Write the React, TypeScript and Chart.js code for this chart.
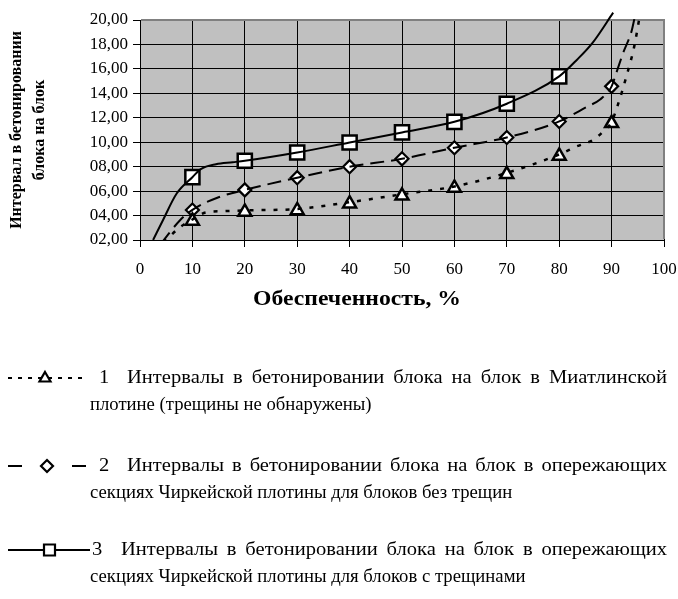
import React, { useEffect, useRef } from "react";
import { Chart, registerables } from "chart.js";

Chart.register(...registerables);

// ---- data ----
const xCategories = [10, 20, 30, 40, 50, 60, 70, 80, 90];
const series1Markers = [3.56, 4.3, 4.42, 4.97, 5.62, 6.26, 7.37, 8.88, 11.55]; // triangles
const series2Markers = [4.46, 6.1, 7.1, 8.0, 8.64, 9.55, 10.39, 11.7, 14.57]; // diamonds
const series3X = [10, 20, 30, 40, 50, 60, 70, 80];
const series3Markers = [7.14, 8.48, 9.16, 9.98, 10.8, 11.67, 13.15, 15.39]; // squares

// smoothed trend curves
const curve1X = [4.5, 7.5, 10, 12.5, 16, 20, 30, 40, 50, 60, 70, 80, 83.3, 86.5, 88.4, 90, 91.3, 92.9, 94.3, 95.4];
const curve1Y = [1.8, 3.0, 3.68, 4.25, 4.36, 4.42, 4.54, 5.09, 5.74, 6.38, 7.49, 9.0, 9.65, 10.2, 10.88, 11.67, 13.2, 15.5, 17.8, 20.4];
const curve2X = [4.0, 7.6, 10, 15, 20, 30, 40, 50, 60, 70, 80, 85.3, 87.8, 90, 91, 92.2, 93.8, 94.5];
const curve2Y = [1.7, 3.6, 4.46, 5.5, 6.1, 7.1, 8.0, 8.64, 9.55, 10.39, 11.7, 12.9, 13.5, 14.57, 15.8, 17.3, 19.07, 20.4];
const curve3X = [2.5, 4.4, 7, 10, 11.6, 14.5, 17.7, 20, 30, 40, 50, 60, 70, 80, 83.4, 86.4, 90.3];
const curve3Y = [2.0, 3.64, 5.8, 7.14, 7.8, 8.2, 8.36, 8.48, 9.16, 9.98, 10.8, 11.67, 13.15, 15.39, 16.75, 18.15, 20.6];

const yTickLabels = ["02,00", "04,00", "06,00", "08,00", "10,00", "12,00", "14,00", "16,00", "18,00", "20,00"];
const yTickValues = [2, 4, 6, 8, 10, 12, 14, 16, 18, 20];

const xTitle = "Обеспеченность, %";
const yTitle = ["Интервал в бетонировании", "блока на блок"];
const legendNumbers = ["1", "2", "3"];
const legendFirstLines = [
  "Интервалы в бетонировании блока на блок в Миатлинской",
  "Интервалы в бетонировании блока на блок в опережающих",
  "Интервалы в бетонировании блока на блок в опережающих",
];
const legendSecondLines = [
  "плотине (трещины не обнаружены)",
  "секциях Чиркейской плотины для блоков без трещин",
  "секциях Чиркейской плотины для блоков с трещинами",
];

const FONT = "'Liberation Serif', 'Times New Roman', serif";

const pts = (xs: number[], ys: number[]) => xs.map((x, i) => ({ x, y: ys[i] }));

function stretchText(ctx: CanvasRenderingContext2D, text: string, x: number, y: number, sx: number) {
  ctx.save();
  ctx.translate(x, y);
  ctx.scale(sx, 1);
  ctx.fillText(text, 0, 0);
  ctx.restore();
}

function justifyText(ctx: CanvasRenderingContext2D, text: string, x0: number, x1: number, y: number, sx: number) {
  const words = text.split(" ");
  const widths = words.map((w) => ctx.measureText(w).width * sx);
  const total = widths.reduce((s, w) => s + w, 0);
  const gap = (x1 - x0 - total) / (words.length - 1);
  let x = x0;
  words.forEach((w, i) => {
    stretchText(ctx, w, x, y, sx);
    x += widths[i] + gap;
  });
}

const overlayPlugin = {
  id: "overlay",
  beforeDraw(chart: any) {
    const { ctx, chartArea: a } = chart;
    ctx.save();
    ctx.fillStyle = "#ffffff";
    ctx.fillRect(0, 0, chart.width, chart.height);
    ctx.fillStyle = "#c0c0c0";
    ctx.fillRect(a.left, a.top, a.right - a.left, a.bottom - a.top);
    ctx.restore();
  },
  beforeDatasetsDraw(chart: any) {
    const { ctx, chartArea: a } = chart;
    ctx.save();
    ctx.strokeStyle = "#808080";
    ctx.lineWidth = 2;
    ctx.beginPath();
    ctx.moveTo(a.left + 1, a.top);
    ctx.lineTo(a.right, a.top);
    ctx.lineTo(a.right, a.bottom - 1);
    ctx.stroke();
    ctx.restore();
  },
  afterDraw(chart: any) {
    const { ctx } = chart;
    ctx.save();
    ctx.fillStyle = "#000";
    ctx.textBaseline = "middle";
    ctx.textAlign = "left";

    // x title (stretched like the reference)
    ctx.font = `bold 20px ${FONT}`;
    const tw = ctx.measureText(xTitle).width;
    stretchText(ctx, xTitle, 253, 300, 208 / tw);

    // legend
    const tops = [378, 466, 550];
    const numX = [99, 99, 92];
    const textX = [127, 127, 121];
    ctx.font = `18.7px ${FONT}`;
    legendFirstLines.forEach((line, i) => {
      const y = tops[i];
      ctx.fillStyle = "#000";
      stretchText(ctx, legendNumbers[i], numX[i], y, 1.1);
      justifyText(ctx, line, textX[i], 667, y, 1.1);
      ctx.fillText(legendSecondLines[i], 90, y + 27);
      ctx.strokeStyle = "#000";
      ctx.lineWidth = 2;
      ctx.beginPath();
      if (i === 0) {
        ctx.setLineDash([4, 6]);
        ctx.moveTo(8, y);
        ctx.lineTo(88, y);
      } else if (i === 1) {
        ctx.setLineDash([14, 50]);
        ctx.moveTo(8, y);
        ctx.lineTo(86, y);
      } else {
        ctx.setLineDash([]);
        ctx.moveTo(8, y);
        ctx.lineTo(90, y);
      }
      ctx.stroke();
      ctx.setLineDash([]);
      ctx.fillStyle = "#fff";
      ctx.lineWidth = 2.2;
      ctx.beginPath();
      if (i === 0) {
        ctx.moveTo(45, y - 6);
        ctx.lineTo(50.5, y + 3.5);
        ctx.lineTo(39.5, y + 3.5);
        ctx.closePath();
      } else if (i === 1) {
        ctx.moveTo(47, y - 6);
        ctx.lineTo(53, y);
        ctx.lineTo(47, y + 6);
        ctx.lineTo(41, y);
        ctx.closePath();
      } else {
        ctx.rect(44, y - 5.5, 11, 11);
      }
      ctx.fill();
      ctx.stroke();
    });
    ctx.restore();
  },
};

export default function App() {
  const ref = useRef<HTMLCanvasElement | null>(null);
  useEffect(() => {
    if (!ref.current) return;
    Chart.defaults.font.family = FONT;
    Chart.defaults.color = "#000";
    const clip = { left: 0, right: 0, bottom: 0, top: false } as any;
    const chart = new Chart(ref.current, {
      type: "line",
      data: {
        datasets: [
          {
            label: "curve1",
            data: pts(curve1X, curve1Y),
            borderColor: "#000",
            borderWidth: 2.5,
            borderDash: [4, 8],
            pointRadius: 0,
            cubicInterpolationMode: "monotone",
            clip,
          },
          {
            label: "curve2",
            data: pts(curve2X, curve2Y),
            borderColor: "#000",
            borderWidth: 2,
            borderDash: [14, 7],
            pointRadius: 0,
            cubicInterpolationMode: "monotone",
            clip,
          },
          {
            label: "curve3",
            data: pts(curve3X, curve3Y),
            borderColor: "#000",
            borderWidth: 2,
            pointRadius: 0,
            cubicInterpolationMode: "monotone",
            clip,
          },
          {
            label: "1",
            data: pts(xCategories, series1Markers),
            showLine: false,
            pointStyle: "triangle",
            pointRadius: 7.5,
            pointBackgroundColor: "#fff",
            pointBorderColor: "#000",
            pointBorderWidth: 2.5,
            clip: false as any,
          },
          {
            label: "2",
            data: pts(xCategories, series2Markers),
            showLine: false,
            pointStyle: "rectRot",
            pointRadius: 6.5,
            pointBackgroundColor: "#fff",
            pointBorderColor: "#000",
            pointBorderWidth: 2.2,
            clip: false as any,
          },
          {
            label: "3",
            data: pts(series3X, series3Markers),
            showLine: false,
            pointStyle: "rect",
            pointRadius: 10,
            pointBackgroundColor: "#fff",
            pointBorderColor: "#000",
            pointBorderWidth: 2.5,
            clip: false as any,
          },
        ],
      },
      options: {
        responsive: false,
        animation: false,
        layout: { padding: { left: 0, top: 20, right: 14, bottom: 289 } },
        plugins: { legend: { display: false }, tooltip: { enabled: false } },
        scales: {
          x: {
            type: "linear",
            min: 0,
            max: 100,
            ticks: { stepSize: 10, font: { size: 17 }, padding: 12, color: "#000" },
            grid: { color: "#000", lineWidth: 1, tickLength: 7, tickColor: "#000" },
            border: { color: "#000", width: 1 },
            afterFit: (s: any) => {
              s.height = 70;
              s.paddingLeft = 0;
              s.paddingRight = 0;
            },
          },
          y: {
            min: 2,
            max: 20,
            afterBuildTicks: (s: any) => {
              s.ticks = yTickValues.map((v) => ({ value: v }));
            },
            ticks: {
              font: { size: 17 },
              padding: 5,
              color: "#000",
              callback: (v: any) => yTickLabels[yTickValues.indexOf(Number(v))] ?? "",
            },
            grid: { color: "#000", lineWidth: 1, tickLength: 7, tickColor: "#000" },
            border: { color: "#000", width: 1 },
            title: {
              display: true,
              text: yTitle,
              font: { size: 16, weight: "bold", lineHeight: 1.44 },
              padding: { top: 5.5, bottom: 0 },
              color: "#000",
            },
            afterFit: (s: any) => {
              s.width = 140;
            },
          },
        },
      },
      plugins: [overlayPlugin],
    });
    return () => chart.destroy();
  }, []);
  return (
    <div style={{ position: "absolute", left: 0, top: 0, width: 678, height: 599 }}>
      <canvas ref={ref} width={678} height={599} style={{ display: "block" }} />
    </div>
  );
}
